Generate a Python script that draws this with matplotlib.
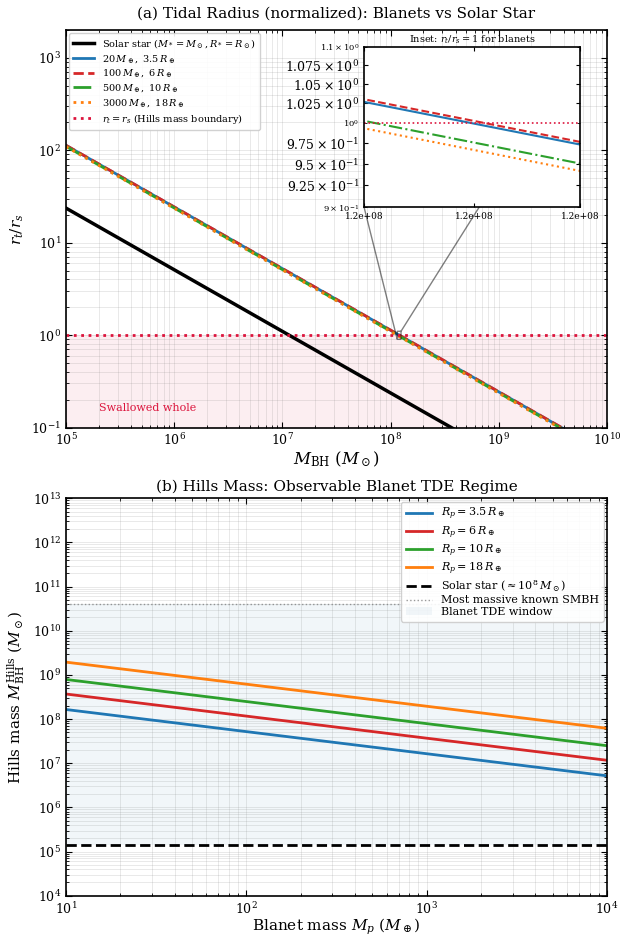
import matplotlib
matplotlib.use('Agg')
import matplotlib.pyplot as plt
from matplotlib.ticker import FixedLocator, FixedFormatter, NullLocator
from matplotlib.patches import Patch

plt.rcParams['font.family'] = ['DejaVu Serif']
plt.rcParams['mathtext.fontset'] = 'dejavuserif'
plt.rcParams['xtick.direction'] = 'in'
plt.rcParams['ytick.direction'] = 'in'
plt.rcParams['xtick.top'] = True
plt.rcParams['ytick.right'] = True

# ---------------- Panel (a) data ----------------
mbh = [1e5, 1.2e8, 1e10]
rt_solar = [23.65, 0.2094, 0.01098]
rt_20 = [112.9, 0.99944, 0.05238]
rt_100 = [113.2, 1.00278, 0.05256]
rt_500 = [110.2, 0.97597, 0.05116]
rt_3000 = [109.2, 0.96695, 0.05069]
blanet_labels = [r'$20\,M_\oplus,\ 3.5\,R_\oplus$', r'$100\,M_\oplus,\ 6\,R_\oplus$',
                 r'$500\,M_\oplus,\ 10\,R_\oplus$', r'$3000\,M_\oplus,\ 18\,R_\oplus$']

# ---------------- Panel (b) data ----------------
mp = [10, 1e4]
hills_35 = [1.65e8, 5.2e6]
hills_6 = [3.7e8, 1.17e7]
hills_10 = [7.9e8, 2.5e7]
hills_18 = [1.95e9, 6.2e7]
hills_labels = [r'$R_p = 3.5\,R_\oplus$', r'$R_p = 6\,R_\oplus$',
                r'$R_p = 10\,R_\oplus$', r'$R_p = 18\,R_\oplus$']
solar_hills = 1.4e5
max_smbh = 4e10

colors = ['#1f77b4', '#d62728', '#2ca02c', '#ff7f0e']
styles = ['-', '--', '-.', ':']

fig, (ax, ax2) = plt.subplots(2, 1, figsize=(6.2, 9.38), dpi=100)
fig.subplots_adjust(left=0.1065, right=0.979, top=0.968, bottom=0.045, hspace=0.178)

# ----- panel a -----
ax.axhspan(0.1, 1.0, color='crimson', alpha=0.07, lw=0)
ax.plot(mbh, rt_solar, color='black', lw=2.5, label=r'Solar star ($M_*=M_\odot, R_*=R_\odot$)')
series = [rt_20, rt_100, rt_500, rt_3000]
for s, c, ls, lab in zip(series, colors, styles, blanet_labels):
    ax.plot(mbh, s, color=c, ls=ls, lw=2, label=lab)
ax.axhline(1.0, color='crimson', ls=':', lw=2, label=r'$r_t=r_s$ (Hills mass boundary)')
ax.text(2e5, 0.15, 'Swallowed whole', color='crimson', fontsize=8)
ax.set_xscale('log')
ax.set_yscale('log')
ax.set_xlim(1e5, 1e10)
ax.set_ylim(0.1, 2e3)
ax.set_xlabel(r'$M_{\rm BH}$ ($M_\odot$)', fontsize=12, labelpad=1)
ax.set_ylabel(r'$r_t/r_s$', fontsize=11)
ax.set_title('(a) Tidal Radius (normalized): Blanets vs Solar Star', fontsize=11, pad=9)
ax.grid(True, which='both', color='gray', alpha=0.2, lw=0.6)
ax.tick_params(which='major', length=4, labelsize=9)
ax.tick_params(which='minor', length=2)
ax.legend(loc='upper left', fontsize=7, framealpha=0.9, borderaxespad=0.3,
          handlelength=2.2, labelspacing=0.3)
for sp in ax.spines.values():
    sp.set_linewidth(1.2)

# inset
axins = ax.inset_axes([0.551, 0.554, 0.399, 0.403])
for s, c, ls in zip(series, colors, styles):
    axins.plot(mbh, s, color=c, ls=ls, lw=1.5)
axins.axhline(1.0, color='crimson', ls=':', lw=1.2)
axins.set_xscale('log')
axins.set_yscale('log')
axins.set_xlim(1.152e8, 1.248e8)
axins.set_ylim(0.9, 1.1)
axins.xaxis.set_major_locator(FixedLocator([1.152e8, 1.2e8, 1.248e8]))
axins.xaxis.set_major_formatter(FixedFormatter(['1.2e+08'] * 3))
axins.xaxis.set_minor_locator(NullLocator())
axins.yaxis.set_major_locator(FixedLocator([0.925, 0.95, 0.975, 1.025, 1.05, 1.075]))
axins.yaxis.set_major_formatter(FixedFormatter([
    r'$\mathdefault{9.25\times10^{-1}}$', r'$\mathdefault{9.5\times10^{-1}}$',
    r'$\mathdefault{9.75\times10^{-1}}$', r'$\mathdefault{1.025\times10^{0}}$',
    r'$\mathdefault{1.05\times10^{0}}$', r'$\mathdefault{1.075\times10^{0}}$']))
axins.yaxis.set_minor_locator(FixedLocator([0.9, 1.0, 1.1]))
axins.yaxis.set_minor_formatter(FixedFormatter([
    r'$\mathdefault{9\times10^{-1}}$', r'$\mathdefault{10^{0}}$',
    r'$\mathdefault{1.1\times10^{0}}$']))
axins.tick_params(axis='x', which='major', labelsize=6.5, length=3)
axins.tick_params(axis='y', which='major', labelsize=9, length=3)
axins.tick_params(axis='y', which='minor', labelsize=6, length=2)
axins.set_title(r'Inset: $r_t/r_s = 1$ for blanets', fontsize=7, pad=3)
for sp in axins.spines.values():
    sp.set_linewidth(1.2)
ax.indicate_inset_zoom(axins, edgecolor='black', alpha=0.5, lw=1.0)

# ----- panel b -----
ax2.axhspan(solar_hills, max_smbh, color='#4682b4', alpha=0.07, lw=0)
hseries = [hills_35, hills_6, hills_10, hills_18]
for s, c, lab in zip(hseries, colors, hills_labels):
    ax2.plot(mp, s, color=c, lw=2, label=lab)
ax2.axhline(solar_hills, color='black', ls='--', lw=2, label=r'Solar star ($\approx 10^8\,M_\odot$)')
ax2.axhline(max_smbh, color='gray', ls=':', lw=1, alpha=0.8, label='Most massive known SMBH')
handles, labels = ax2.get_legend_handles_labels()
handles.append(Patch(facecolor='#4682b4', alpha=0.07, edgecolor='none'))
labels.append('Blanet TDE window')
ax2.set_xscale('log')
ax2.set_yscale('log')
ax2.set_xlim(10, 1e4)
ax2.set_ylim(1e4, 1e13)
ax2.set_xlabel(r'Blanet mass $M_p$ ($M_\oplus$)', fontsize=11, labelpad=0)
ax2.set_ylabel(r'Hills mass $M_{\rm BH}^{\rm Hills}$ ($M_\odot$)', fontsize=11)
ax2.set_title('(b) Hills Mass: Observable Blanet TDE Regime', fontsize=11, pad=5)
ax2.grid(True, which='both', color='gray', alpha=0.2, lw=0.6)
ax2.tick_params(which='major', length=4, labelsize=9)
ax2.tick_params(which='minor', length=2)
ax2.legend(handles, labels, loc='upper right', fontsize=8, framealpha=0.9,
           borderaxespad=0.3, handlelength=2.4, labelspacing=0.15)
for sp in ax2.spines.values():
    sp.set_linewidth(1.2)

fig.savefig('out.png', dpi=100)
